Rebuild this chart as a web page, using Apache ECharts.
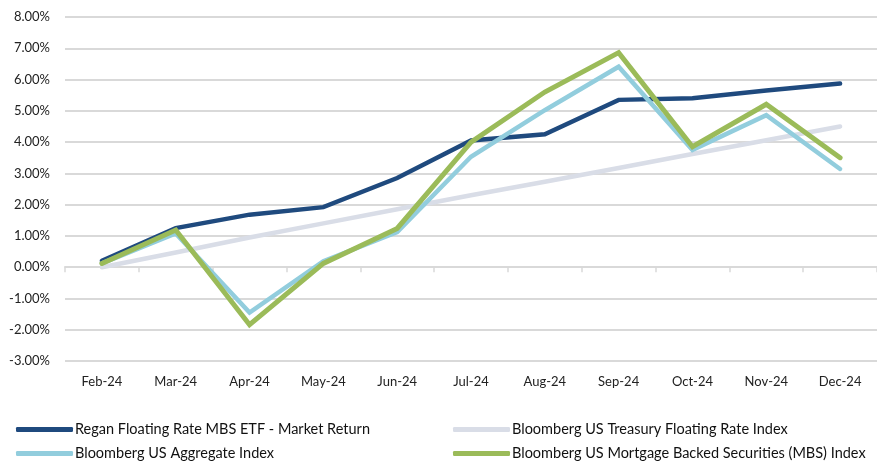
<!DOCTYPE html>
<html>
<head>
<meta charset="utf-8">
<script src="https://cdn.jsdelivr.net/npm/echarts@6/dist/echarts.min.js"></script>
<style>
  html, body { margin: 0; padding: 0; background: #fff; }
  #chart { width: 877px; height: 464px; }
</style>
</head>
<body>
<div id="chart"></div>
<script>
const months = ['Feb-24', 'Mar-24', 'Apr-24', 'May-24', 'Jun-24', 'Jul-24', 'Aug-24', 'Sep-24', 'Oct-24', 'Nov-24', 'Dec-24'];

// returns in %
const regan = [0.20, 1.25, 1.68, 1.92, 2.85, 4.05, 4.25, 5.35, 5.40, 5.65, 5.87];
const treasury = [0.00, 0.47, 0.95, 1.40, 1.85, 2.30, 2.73, 3.17, 3.62, 4.06, 4.50];
const aggregate = [0.12, 1.08, -1.45, 0.19, 1.12, 3.53, 5.02, 6.41, 3.75, 4.86, 3.14];
const mbs = [0.12, 1.19, -1.84, 0.12, 1.24, 4.00, 5.60, 6.86, 3.85, 5.21, 3.50];

const names = [
    'Regan Floating Rate MBS ETF - Market Return',
    'Bloomberg US Treasury Floating Rate Index',
    'Bloomberg US Aggregate Index',
    'Bloomberg US Mortgage Backed Securities (MBS) Index'
];
const colors = ['#1F4A7E', '#D9DDE7', '#92CDDD', '#9BBB59'];

const font = 'Lato';
const chart = echarts.init(document.getElementById('chart'));

const legendPos = [
    { left: 16, top: 422 },
    { left: 453, top: 422 },
    { left: 16, top: 446 },
    { left: 453, top: 446 }
];

const option = {
    animation: false,
    textStyle: { fontFamily: font },
    grid: { left: 65, right: 0, top: 17, bottom: 103, containLabel: false },
    legend: names.map((n, i) => ({
        data: [n],
        left: legendPos[i].left,
        top: legendPos[i].top,
        icon: 'roundRect',
        itemWidth: 57,
        itemHeight: 5,
        itemGap: 0,
        padding: 0,
        textStyle: { fontFamily: font, fontSize: 14.5, color: '#111', padding: [0, 0, 0, -3] }
    })),
    xAxis: [
        {
            type: 'category',
            data: months,
            position: 'bottom',
            axisLine: { show: false, onZero: false },
            axisTick: { show: false },
            axisLabel: { color: '#222', fontSize: 13, fontFamily: font, margin: 14 }
        },
        {
            type: 'category',
            data: months,
            position: 'bottom',
            axisLine: { show: true, onZero: true, lineStyle: { color: '#D9D9D9', width: 2 } },
            axisTick: { show: true, length: 5, lineStyle: { color: '#D9D9D9', width: 1.5 } },
            axisLabel: { show: false }
        }
    ],
    yAxis: {
        type: 'value',
        min: -3,
        max: 8,
        interval: 1,
        axisLine: { show: false },
        axisTick: { show: false },
        axisLabel: {
            color: '#222', fontSize: 13, fontFamily: font, margin: 15,
            formatter: v => v.toFixed(2) + '%'
        },
        splitLine: { lineStyle: { color: '#D9D9D9', width: 2 } }
    },
    series: [
        { name: names[1], data: treasury, z: 1 },
        { name: names[0], data: regan, z: 2 },
        { name: names[2], data: aggregate, z: 3 },
        { name: names[3], data: mbs, z: 4, width: 5 }
    ].map(s => {
        const i = names.indexOf(s.name);
        return {
            name: s.name,
            type: 'line',
            data: s.data,
            z: s.z,
            symbol: 'none',
            color: colors[i],
            lineStyle: { color: colors[i], width: s.width || 4.5, cap: 'round', join: 'miter' }
        };
    })
};

chart.setOption(option);
</script>
</body>
</html>
